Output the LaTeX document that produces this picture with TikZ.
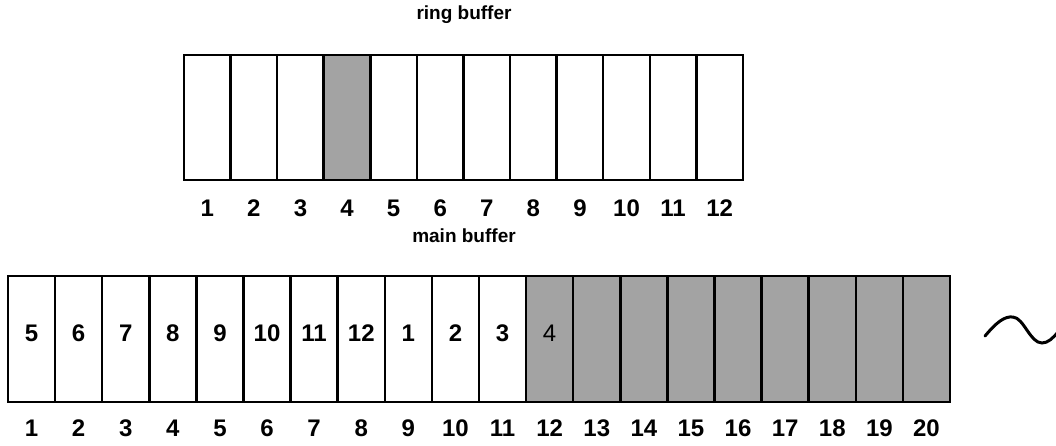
\documentclass[tikz,border=0pt]{standalone}
\usepackage{fontspec}
\setmainfont{Liberation Sans}
\begin{document}
\begin{tikzpicture}[x=1pt,y=-1pt,
  cellr/.style={draw=black,line width=2.5pt,minimum width=46.58pt,minimum height=125pt,inner sep=0pt,outer sep=0pt},
  cellm/.style={draw=black,line width=2.5pt,minimum width=47.1pt,minimum height=126pt,inner sep=0pt,outer sep=0pt},
  shaded/.style={fill=black!36},
  lbl/.style={font=\fontsize{24}{26}\selectfont\bfseries,inner sep=0pt},
  inlbl/.style={font=\fontsize{24}{26}\selectfont\bfseries,inner sep=0pt},
  captiontext/.style={font=\fontsize{19}{21}\selectfont\bfseries,inner sep=0pt}]
\useasboundingbox (0,0) rectangle (1056,446);
% ring buffer
\node[captiontext] (ringcap) at (464,15) {ring buffer};
\foreach \i in {1,...,12}{
  \pgfmathsetmacro{\cx}{184+(\i-0.5)*46.58}
  \ifnum\i=4
    \node[cellr,shaded] (r\i) at (\cx,117.5) {};
  \else
    \node[cellr] (r\i) at (\cx,117.5) {};
  \fi
  \node[lbl] (rl\i) at (\cx,208) {\i};
}
\node[captiontext] (maincap) at (464,236) {main buffer};
% main buffer
\foreach \i in {1,...,20}{
  \pgfmathsetmacro{\cx}{8+(\i-0.5)*47.1}
  \ifnum\i>11
    \node[cellm,shaded] (m\i) at (\cx,339) {};
  \else
    \node[cellm] (m\i) at (\cx,339) {};
  \fi
  \node[lbl] (ml\i) at (\cx,428) {\i};
}
\foreach \i/\t in {1/5,2/6,3/7,4/8,5/9,6/10,7/11,8/12,9/1,10/2,11/3}{
  \node[inlbl] (mt\i) at ([yshift=6pt]m\i.center) {\t};
}
\node[font=\fontsize{24}{26}\selectfont,inner sep=0pt] (mt12) at ([yshift=6pt]m12.center) {4};
% tilde
\draw[line width=3pt,line cap=round] (985,336) .. controls (996,323) and (1004,316) .. (1013,317) .. controls (1024,318) and (1030,343) .. (1042,343) .. controls (1048,343) and (1053,338) .. (1058,332);
\end{tikzpicture}
\end{document}
